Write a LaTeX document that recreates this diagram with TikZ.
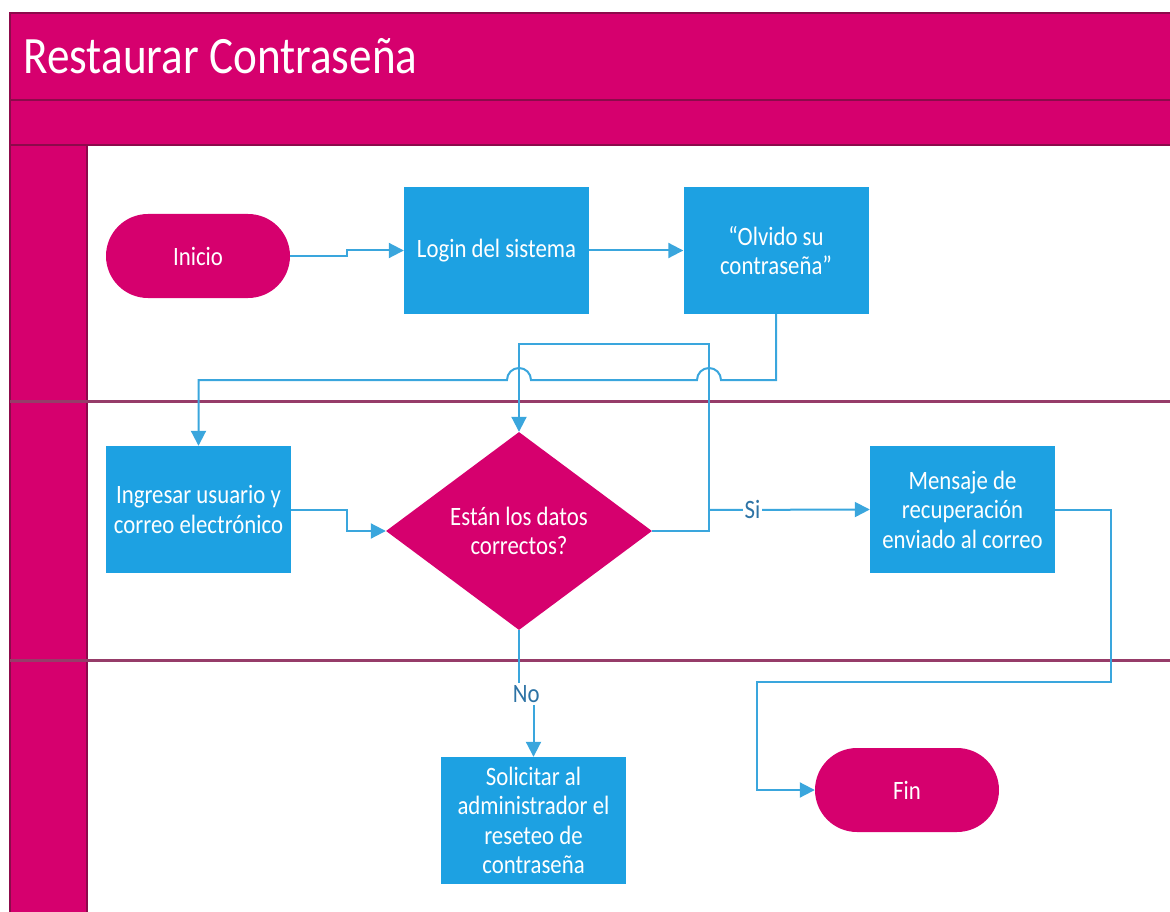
\documentclass[tikz,border=0pt]{standalone}
\usepackage{fontspec}
\setmainfont[FakeStretch=0.86]{Carlito}
\usetikzlibrary{arrows.meta,shapes.geometric}

\definecolor{rosa}{RGB}{214,0,110}
\definecolor{rosaline}{RGB}{140,10,75}
\definecolor{laneline}{RGB}{150,60,105}
\definecolor{boxblue}{RGB}{29,161,226}
\definecolor{lineblue}{RGB}{58,166,221}
\definecolor{lbltext}{RGB}{45,115,165}

\begin{document}
\begin{tikzpicture}[x=1pt,y=-1pt,
    stepbox/.style={fill=boxblue, text=white, minimum width=185pt, minimum height=127pt, align=center, inner sep=2pt, font=\fontsize{26.5}{29.5}\selectfont},
    term/.style={fill=rosa, text=white, rounded corners=42pt, minimum width=184pt, minimum height=84pt, font=\fontsize{26.5}{29.5}\selectfont},
    decision/.style={diamond, fill=rosa, text=white, minimum width=266pt, minimum height=198pt, inner sep=0pt, align=center, font=\fontsize{26.5}{29.5}\selectfont},
    conn/.style={draw=lineblue, line width=2pt, -{Triangle[length=15pt,width=15pt]}},
    lbl/.style={fill=white, text=lbltext, inner sep=2pt, font=\fontsize{26.5}{29}\selectfont}]
    \useasboundingbox (0,0) rectangle (1170,912);

    % pool and lanes
    \fill[rosa] (10,13) rectangle (1170,145);
    \fill[rosa] (10,145) rectangle (87,912);
    \draw[rosaline, line width=1.6pt] (1170,13) -- (10,13) -- (10,912);
    \draw[rosaline, line width=1.6pt] (10,100) -- (1170,100);
    \draw[rosaline, line width=1.6pt] (10,145) -- (1170,145);
    \draw[rosaline, line width=1.2pt] (87,145) -- (87,912);
    \draw[laneline, line width=3pt] (10,401) -- (1170,401);
    \draw[laneline, line width=3pt] (10,660) -- (1170,660);
    \node(title) at (20,56) [anchor=west, text=white, font=\fontsize{52.5}{60}\selectfont] {Restaurar Contraseña};

    % nodes
    \node(inicio) at (198,256) [term] {Inicio};
    \node(login) at (496.5,250.5) [stepbox] {Login del sistema};
    \node(olvido) at (776,250.5) [stepbox] {“Olvido su\\contraseña”};
    \node(ingresar) at (198.5,509.5) [stepbox] {Ingresar usuario y\\correo electrónico};
    \node(datos) at (519,531) [decision] {Están los datos\\correctos?};
    \node(mensaje) at (962.5,509.5) [stepbox] {Mensaje de\\recuperación\\enviado al correo};
    \node(solicitar) at (533.5,820.5) [stepbox] {Solicitar al\\administrador el\\reseteo de\\contraseña};
    \node(fin) at (907,790) [term] {Fin};

    % connectors
    \draw[conn] (inicio.east) -- ++(57,0) |- (login.west);
    \draw[conn] (login.east) -- (olvido.west);
    \draw[conn] (olvido.south) -- (olvido.south |- 0,380) -- (721,380)
        arc[start angle=0, end angle=180, radius=12pt] -- (531,380)
        arc[start angle=0, end angle=180, radius=12pt] -- (ingresar.north |- 0,380) -- (ingresar.north);
    \draw[conn] (ingresar.east) -- ++(56,0) |- (datos.west);
    \draw[conn] (datos.east) -| (709,344) -| (datos.north);
    \coordinate(si) at (709,510);
    \draw[conn] (si) -- node[lbl, pos=0.27] {Si} (mensaje.west);
    \draw[conn] (datos.south) -- (datos.south |- 0,694) -| node[lbl, pos=0.25] {No} (solicitar.north);
    \draw[conn] (mensaje.east) -- ++(56,0) |- (757,682) |- (fin.west);
\end{tikzpicture}
\end{document}
